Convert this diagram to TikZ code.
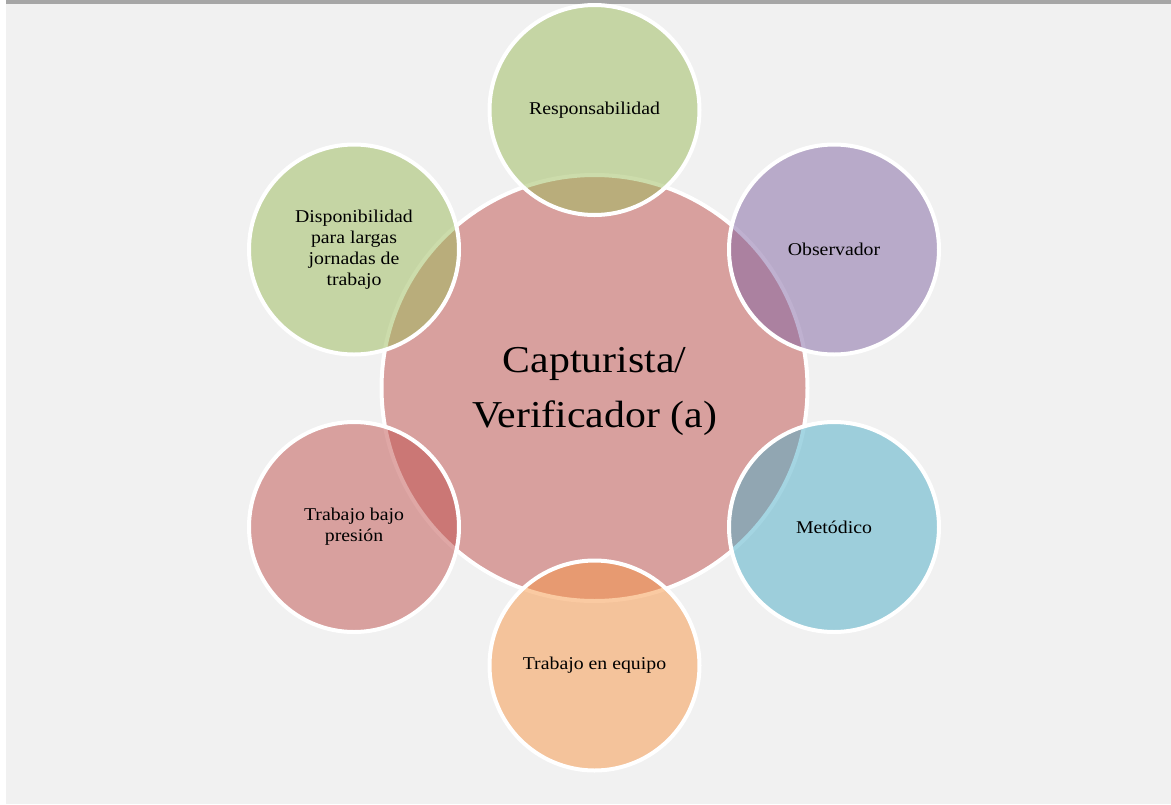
\documentclass[tikz,border=0pt]{standalone}
\usepackage{fontspec}
\setmainfont[FakeStretch=1.1]{Liberation Serif}
\definecolor{bgc}{HTML}{F1F1F1}
\definecolor{barc}{HTML}{A6A6A6}
\definecolor{cred}{HTML}{C0504D}
\definecolor{cgreen}{HTML}{9BBB59}
\definecolor{cpurple}{HTML}{8064A2}
\definecolor{cblue}{HTML}{4BACC6}
\definecolor{corange}{HTML}{F79646}
\tikzset{
  bubble/.style={circle, draw=white, line width=4pt, fill opacity=0.5, draw opacity=1, text opacity=1, inner sep=0pt, minimum size=210pt, align=center, font=\fontsize{18}{21}\selectfont, text=black},
  hub/.style={bubble, minimum size=426pt, font=\fontsize{38}{55}\selectfont}
}
\begin{document}
\begin{tikzpicture}[x=1pt,y=-1pt]
\useasboundingbox (0,0) rectangle (1171,804);
\fill[white] (0,0) rectangle (1171,804);
\fill[bgc] (6,0) rectangle (1171,804);
\fill[barc] (6,0) rectangle (1171,4);
\node[hub, fill=cred] (c) at (594.5,388) {};
\node[align=center, font=\fontsize{38}{55}\selectfont] (ct) at (594.5,391) {Capturista/\\Verificador (a)};
\node[bubble, fill=cgreen] (r) at (594.5,110) {Responsabilidad};
\node[bubble, fill=cpurple] (o) at (834,249.5) {Observador};
\node[bubble, fill=cblue] (m) at (834,527) {Metódico};
\node[bubble, fill=corange] (e) at (594.5,665.5) {Trabajo en equipo};
\node[bubble, fill=cred] (p) at (354,527) {Trabajo bajo\\presión};
\node[bubble, fill=cgreen] (d) at (354,249.5) {Disponibilidad\\para largas\\jornadas de\\trabajo};
\end{tikzpicture}
\end{document}
